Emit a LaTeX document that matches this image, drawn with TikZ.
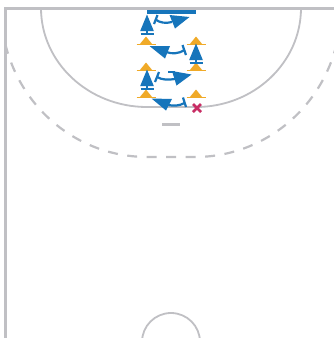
\documentclass[tikz,border=0pt]{standalone}
\usetikzlibrary{calc}
\definecolor{court}{RGB}{192,192,196}
\definecolor{plblue}{RGB}{22,117,187}
\definecolor{coneor}{RGB}{240,170,40}
\definecolor{xred}{RGB}{200,45,100}
\tikzset{
  x=1pt,y=-1pt,
  courtline/.style={draw=court,line width=1.8pt},
  thick border/.style={draw=court,line width=3pt},
  pics/cone/.style={code={
    \fill[coneor] (-6.5,2.5) -- (0,-5.5) -- (6.5,2.5) -- cycle;
    \draw[coneor,line width=1.5pt] (-9.5,2.6) -- (9.5,2.6);
  }},
  pics/player/.style={code={
    \fill[plblue] (0,-10.5) -- (6.8,6) -- (-6.8,6) -- cycle;
    \draw[plblue,line width=2.2pt] (-6.5,8.8) -- (6.5,8.8);
    \draw[plblue,line width=1.4pt] (0,5) -- (0,8.8);
  }},
  bar/.style={draw=plblue,line width=2.2pt},
  run/.style={draw=plblue,line width=2.2pt},
  head/.style={fill=plblue,draw=none},
}
\begin{document}
\begin{tikzpicture}
\useasboundingbox (0,0) rectangle (334,338);
\fill[white] (0,0) rectangle (334,338);
% court
\draw[courtline] (41,8) .. controls (41,62.6) and (88.5,107) .. (147,107) -- (196,107)
  .. controls (254,107) and (301,62.6) .. (301,8);
\draw[courtline,dash pattern=on 10pt off 9.5pt,line width=2.2pt] (5.3,44)
  arc[start angle=166,end angle=90,x radius=146,y radius=149] -- (195,157)
  arc[start angle=90,end angle=13,x radius=146,y radius=149];
\draw[thick border] (5,338) -- (5,8) -- (334,8);
\draw[court,line width=3pt] (162,124) -- (180,124);
\draw[courtline] (142,342) arc[start angle=180,end angle=360,radius=29];
% goal
\fill[plblue] (147,9.5) rectangle (196,13.5);
% cones
\path (146,42) pic {cone} (196,42) pic {cone} (146,68) pic {cone}
      (196,68) pic {cone} (146,95) pic {cone} (196,95) pic {cone};
% players
\path (147,25) pic {player} (196,54) pic {player} (147,80) pic {player};
% cross
\draw[xred,line width=2.6pt] (193,104) -- (201,112) (201,104) -- (193,112);
% arrow 1
\coordinate (a1) at (155.5,19.5); \coordinate (b1) at (172,22);
\draw[bar] (157.5,15) -- (154,24);
\draw[run] (a1) .. controls (160,23) and (166,23.5) .. (b1);
\fill[head] (189.5,17) -- (169.5,15) -- (175,28.5) -- cycle;
% arrow 2
\coordinate (a2) at (184.5,50); \coordinate (b2) at (166,52);
\draw[bar] (182.5,45) -- (186,55);
\draw[run] (a2) .. controls (178,54) and (172,54) .. (b2);
\fill[head] (149.5,46) -- (170,46) -- (165,58.5) -- cycle;
% arrow 3
\coordinate (a3) at (157,77); \coordinate (b3) at (175,79);
\draw[bar] (159,72) -- (155,82);
\draw[run] (a3) .. controls (162,80) and (168,80) .. (b3);
\draw[run] (168,72) -- (175,72);
\fill[head] (191.5,74.5) -- (172,71) -- (176.5,85.5) -- cycle;
% arrow 4
\coordinate (a4) at (184.5,103); \coordinate (b4) at (168,105);
\draw[bar] (183,97.5) -- (186,107);
\draw[run] (a4) .. controls (179,106) and (174,106) .. (b4);
\fill[head] (151.5,98.5) -- (172,99) -- (166,110.5) -- cycle;
\end{tikzpicture}
\end{document}
